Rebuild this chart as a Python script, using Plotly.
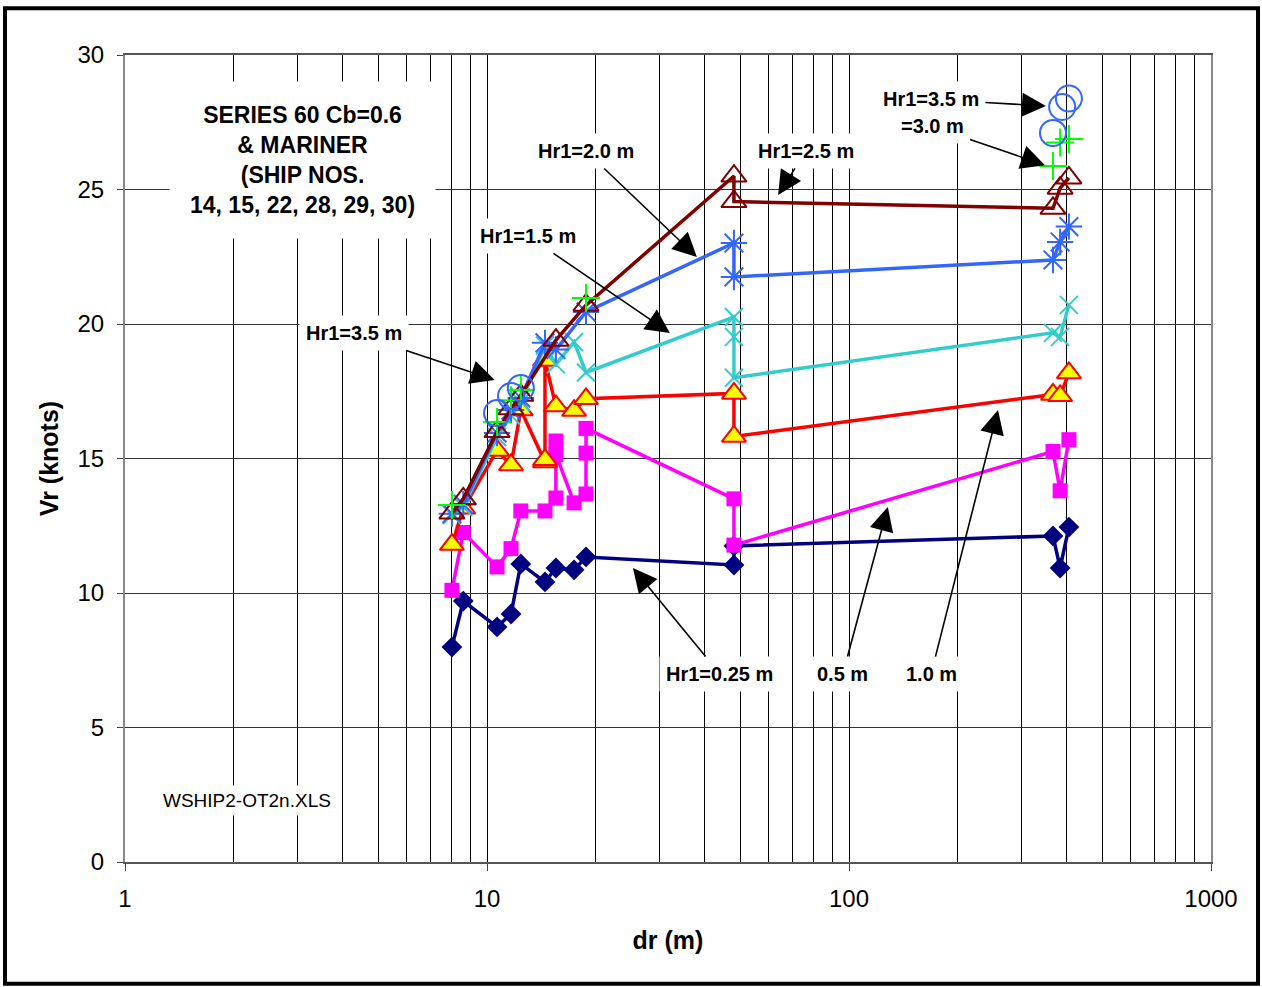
import math
import plotly.graph_objects as go

# dr (m) and Vr (knots) for each Hr1 group
hr025_dr = [8.0, 8.6, 10.66, 11.65, 12.4, 14.46, 15.5, 17.4, 18.77, 48.1, 48.1, 366, 383, 405]
hr025_vr = [7.99, 9.70, 8.74, 9.22, 11.08, 10.41, 10.93, 10.86, 11.34, 11.04, 11.75, 12.12, 10.93, 12.45]

hr05_dr = [8.0, 8.6, 10.66, 11.65, 12.4, 14.46, 15.5, 15.5, 15.5, 17.4, 18.77, 18.77, 18.77, 48.1, 48.1, 366, 383, 405]
hr05_vr = [10.1, 12.25, 10.97, 11.65, 13.05, 13.05, 13.53, 15.65, 15.15, 13.35, 13.68, 15.2, 16.12, 13.5, 11.78, 15.26, 13.8, 15.7]

hr10_dr = [8.0, 8.6, 10.66, 11.65, 12.4, 14.46, 14.46, 14.46, 15.5, 17.4, 18.77, 48.1, 48.1, 366, 383, 405]
hr10_vr = [11.8, 13.15, 15.3, 14.76, 16.8, 14.87, 14.95, 18.64, 16.95, 16.78, 17.22, 17.42, 15.82, 17.38, 17.33, 18.18]

hr15_dr = [8.0, 8.6, 10.66, 11.65, 12.4, 14.46, 15.5, 17.4, 18.77, 48.1, 48.1, 48.1, 366, 383, 405]
hr15_vr = [12.9, 13.2, 15.8, 16.6, 17.1, 19.2, 18.5, 19.33, 18.2, 20.26, 19.52, 18.0, 19.67, 19.52, 20.71]

hr20_dr = [8.0, 8.6, 10.66, 11.65, 12.4, 14.46, 15.5, 18.77, 48.1, 48.1, 366, 383, 405]
hr20_vr = [12.95, 13.3, 15.95, 16.8, 17.25, 19.3, 19.05, 20.45, 23.01, 21.75, 22.38, 23.05, 23.62]

hr25_dr = [8.0, 8.6, 10.66, 11.65, 12.4, 15.5, 18.77, 48.1, 48.1, 366, 383, 405]
hr25_vr = [12.97, 13.5, 16.0, 16.85, 17.35, 19.4, 20.7, 25.5, 24.55, 24.3, 25.05, 25.43]

hr30_dr = [8.0, 10.66, 11.65, 12.4, 18.77, 366, 383, 405]
hr30_vr = [13.27, 16.36, 17.17, 17.55, 20.97, 25.87, 26.75, 26.88]

hr35_dr = [10.66, 11.65, 12.4, 366, 388, 405]
hr35_vr = [16.69, 17.32, 17.62, 27.1, 28.07, 28.38]

x_ticks = [1, 10, 100, 1000]
y_ticks = [0, 5, 10, 15, 20, 25, 30]

FONT = "Liberation Sans, Arial, sans-serif"
LW = 3.5

fig = go.Figure()

fig.add_trace(go.Scatter(x=hr025_dr, y=hr025_vr, mode="lines+markers", name="Hr1=0.25 m",
                         line=dict(color="#000080", width=LW),
                         marker=dict(symbol="diamond", size=16, color="#000080")))
fig.add_trace(go.Scatter(x=hr05_dr, y=hr05_vr, mode="lines+markers", name="Hr1=0.5 m",
                         line=dict(color="#FF00FF", width=LW),
                         marker=dict(symbol="square", size=15, color="#FF00FF")))
fig.add_trace(go.Scatter(x=hr10_dr, y=hr10_vr, mode="lines+markers", name="Hr1=1.0 m",
                         line=dict(color="#FF0000", width=LW),
                         marker=dict(symbol="triangle-up", size=21, color="#FFFF00",
                                     line=dict(color="#FF0000", width=2))))
fig.add_trace(go.Scatter(x=hr15_dr, y=hr15_vr, mode="lines+markers", name="Hr1=1.5 m",
                         line=dict(color="#33CCCC", width=LW),
                         marker=dict(symbol="x-thin-open", size=18, color="#33CCCC",
                                     line=dict(color="#33CCCC", width=2))))
fig.add_trace(go.Scatter(x=hr20_dr, y=hr20_vr, mode="lines+markers", name="Hr1=2.0 m",
                         line=dict(color="#3366FF", width=LW),
                         marker=dict(symbol="asterisk-open", size=22, color="#3366FF",
                                     line=dict(color="#3366FF", width=2))))
fig.add_trace(go.Scatter(x=hr25_dr, y=hr25_vr, mode="lines+markers", name="Hr1=2.5 m",
                         line=dict(color="#800000", width=LW),
                         marker=dict(symbol="triangle-up-open", size=22, color="#800000",
                                     line=dict(color="#800000", width=2))))
fig.add_trace(go.Scatter(x=hr30_dr, y=hr30_vr, mode="markers", name="Hr1=3.0 m",
                         marker=dict(symbol="cross-thin-open", size=20, color="#00FF00",
                                     line=dict(color="#00FF00", width=2))))
fig.add_trace(go.Scatter(x=hr35_dr, y=hr35_vr, mode="markers", name="Hr1=3.5 m",
                         marker=dict(symbol="circle-open", size=26, color="#3366FF",
                                     line=dict(color="#3366FF", width=2))))

# callouts: (text, arrow tip dr, arrow tip Vr, text offset px)
callouts = [
    ("Hr1=2.0 m", 38.0, 22.49, -111, -106),
    ("Hr1=2.5 m", 63.7, 24.8, 28, -44),
    ("Hr1=1.5 m", 32.0, 19.67, -142, -97),
    ("Hr1=3.5 m", 10.5, 17.92, -141, -47),
    ("Hr1=3.5 m", 350, 28.1, -115, -7),
    ("=3.0 m", 348, 25.9, -113, -39),
    ("Hr1=0.25 m", 25.3, 10.93, 87, 106),
    ("0.5 m", 128, 13.2, -45, 167),
    ("1.0 m", 258, 16.8, -67, 264),
]
for text, tx, ty, ax, ay in callouts:
    fig.add_annotation(x=math.log10(tx), y=ty, xref="x", yref="y", text="<b>" + text + "</b>",
                       ax=ax, ay=ay, showarrow=True, arrowhead=2, arrowsize=3.0,
                       arrowwidth=1.6, arrowcolor="black", bgcolor="white",
                       borderpad=6, font=dict(family=FONT, size=20, color="black"))

fig.add_annotation(x=0.1639, y=0.870, xref="paper", yref="paper", xanchor="center", yanchor="middle",
                   text="<b>SERIES 60 Cb=0.6<br>& MARINER<br>(SHIP NOS.<br>14, 15, 22, 28, 29, 30)</b>",
                   showarrow=False, bgcolor="white", borderpad=20, align="center",
                   font=dict(family=FONT, size=23, color="black"))
fig.add_annotation(x=0.1123, y=0.0768, xref="paper", yref="paper", xanchor="center", yanchor="middle",
                   text="WSHIP2-OT2n.XLS", showarrow=False, bgcolor="white", borderpad=4,
                   font=dict(family=FONT, size=19, color="black"))

# outer frame of the chart
fig.add_shape(type="rect", xref="paper", yref="paper", x0=-0.1105, x1=1.0433, y0=-0.151, y1=1.058,
              line=dict(color="black", width=4))

fig.update_xaxes(type="log", range=[0, 3], tickvals=x_ticks, ticktext=[str(v) for v in x_ticks],
                 showgrid=True, gridcolor="black", gridwidth=1,
                 minor=dict(dtick="D1", showgrid=True, gridcolor="black", gridwidth=1, ticks=""),
                 ticks="outside", ticklen=7, tickcolor="#444", ticklabelstandoff=7,
                 showline=True, linecolor="#555", linewidth=2, mirror=True,
                 tickfont=dict(family=FONT, size=24, color="black"),
                 title=dict(text="<b>dr (m)</b>", font=dict(family=FONT, size=25, color="black"), standoff=21),
                 zeroline=False)
fig.update_yaxes(range=[0, 30], tickvals=y_ticks, showgrid=True, gridcolor="#333", gridwidth=1,
                 ticks="outside", ticklen=6, tickcolor="#444", ticklabelstandoff=8,
                 showline=True, linecolor="#888", linewidth=2, mirror=True,
                 tickfont=dict(family=FONT, size=24, color="black"),
                 title=dict(text="<b>Vr (knots)</b>", font=dict(family=FONT, size=25, color="black"), standoff=12),
                 zeroline=False)

fig.update_layout(width=1262, height=987, margin=dict(l=125, r=51, t=55, b=125),
                  paper_bgcolor="white", plot_bgcolor="white", showlegend=False,
                  font=dict(family=FONT))

fig.write_html("out.html", config={"displayModeBar": False},
               post_script="document.body.style.margin='0';")
